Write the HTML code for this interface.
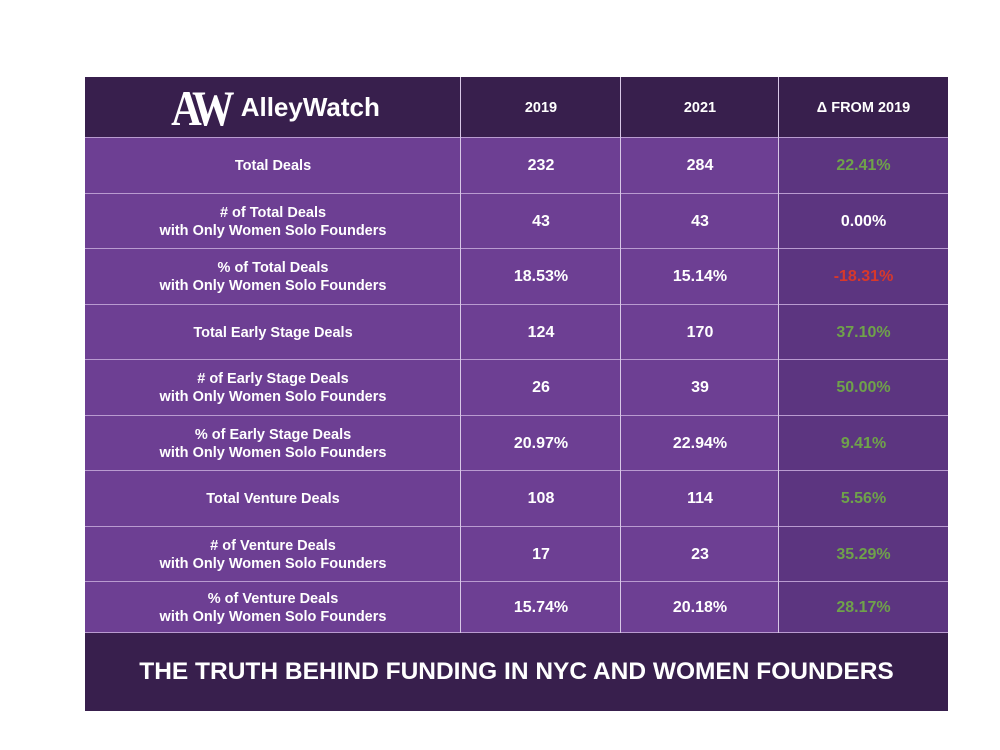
<!DOCTYPE html>
<html><head><meta charset="utf-8"><style>
body{margin:0;width:1000px;height:750px;background:#fff;position:relative;font-family:"Liberation Sans",Arial,sans-serif;overflow:hidden}
.c{position:absolute;display:flex;align-items:center;justify-content:center;text-align:center;color:#fff;font-weight:bold;box-sizing:border-box}
.lbl{font-size:14.5px;line-height:18px}
.num{font-size:16px}
.g{color:#6fa24a}.r{color:#d8382b}
</style></head><body>
<div id="tbl"></div>
<script>
const rowLabels=["Total Deals","# of Total Deals<br>with Only Women Solo Founders","% of Total Deals<br>with Only Women Solo Founders","Total Early Stage Deals","# of Early Stage Deals<br>with Only Women Solo Founders","% of Early Stage Deals<br>with Only Women Solo Founders","Total Venture Deals","# of Venture Deals<br>with Only Women Solo Founders","% of Venture Deals<br>with Only Women Solo Founders"];
const v2019=["232","43","18.53%","124","26","20.97%","108","17","15.74%"];
const v2021=["284","43","15.14%","170","39","22.94%","114","23","20.18%"];
const delta=["22.41%","0.00%","-18.31%","37.10%","50.00%","9.41%","5.56%","35.29%","28.17%"];
const cols=[85,461,621,779,948];
const rowsY=[138,194,249,305,360,416,471,527,582,633];
const t=document.getElementById('tbl');
function cell(x0,x1,y0,y1,bg,html,cls,name){
 const d=document.createElement('div');d.className='c '+cls;
 d.style.cssText=`left:${x0}px;top:${y0}px;width:${x1-x0}px;height:${y1-y0}px;background:${bg};`;
 d.innerHTML=html;
 
 
 t.appendChild(d);return d;}
cell(85,948,77,138,'#381f4d','','', 'header-bar');
cell(85,461,77,138,'transparent','<span style="font-family:\'Liberation Serif\',serif;font-size:50px;letter-spacing:-6px;transform:scaleX(0.85);display:inline-block;margin-right:6px">AW</span><span style="font-size:26px">AlleyWatch</span>','','alleywatch-logo');
['2019','2021','Δ FROM 2019'].forEach((h,i)=>{cell(cols[i+1],cols[i+2],77,138,'transparent',h,'lbl','header-'+(i+1));});
for(let i=0;i<rowLabels.length;i++){
 const y0=rowsY[i],y1=rowsY[i+1];
 cell(85,461,y0,y1,'#6d3f93',rowLabels[i],'lbl','row-label-'+(i+1));
 cell(461,621,y0,y1,'#6d3f93',v2019[i],'num','value-2019-'+(i+1));
 cell(621,779,y0,y1,'#6d3f93',v2021[i],'num','value-2021-'+(i+1));
 const n=parseFloat(delta[i]);
 cell(779,948,y0,y1,'#5c3580',delta[i],'num '+(n>0?'g':n<0?'r':''),'delta-'+(i+1));
}
for(let i=0;i<rowsY.length;i++){const l=document.createElement('div');l.style.cssText=`position:absolute;left:85px;width:863px;top:${rowsY[i]-1}px;height:1px;background:#b99bd0`;t.appendChild(l);}
for(let j=1;j<4;j++){const l=document.createElement('div');l.style.cssText=`position:absolute;top:77px;height:556px;left:${cols[j]-1}px;width:1px;background:#d8c8e6`;t.appendChild(l);}
cell(85,948,633,711,'#381f4d','THE TRUTH BEHIND FUNDING IN NYC AND WOMEN FOUNDERS','','footer-title').style.fontSize='24.5px';
</script>
</body></html>
